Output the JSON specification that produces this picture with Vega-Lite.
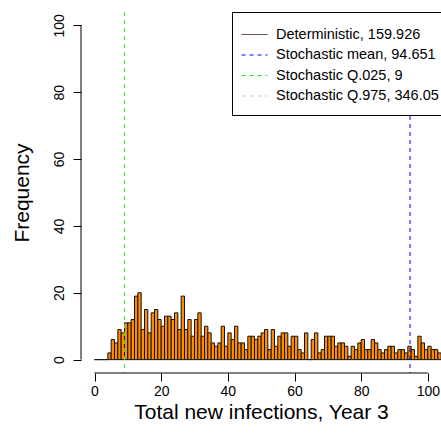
{
  "$schema": "https://vega.github.io/schema/vega-lite/v6.json",
  "width": 360,
  "height": 361,
  "autosize": {"type": "none"},
  "padding": {"left": 81, "top": 12, "right": 0, "bottom": 69},
  "config": {
    "font": "Liberation Sans",
    "view": {"stroke": null},
    "axis": {"grid": false, "domain": false, "tickColor": "#000", "labelColor": "#000", "titleColor": "#000", "labelFont": "Liberation Sans", "titleFont": "Liberation Sans", "titleFontWeight": "normal", "tickSize": 8, "labelFontSize": 14, "titleFontSize": 21},
    "legend": {"labelFont": "Liberation Sans"}
  },
  "datasets": {
    "hist": [
      {"lo":0,"hi":1,"n":0},{"lo":1,"hi":2,"n":0},{"lo":2,"hi":3,"n":0},{"lo":3,"hi":4,"n":0},
      {"lo":4,"hi":5,"n":2},{"lo":5,"hi":6,"n":6},{"lo":6,"hi":7,"n":5},{"lo":7,"hi":8,"n":9},
      {"lo":8,"hi":9,"n":8},{"lo":9,"hi":10,"n":11},{"lo":10,"hi":11,"n":11},{"lo":11,"hi":12,"n":12},
      {"lo":12,"hi":13,"n":19},{"lo":13,"hi":14,"n":20},{"lo":14,"hi":15,"n":9},{"lo":15,"hi":16,"n":15},
      {"lo":16,"hi":17,"n":8},{"lo":17,"hi":18,"n":14},{"lo":18,"hi":19,"n":15},{"lo":19,"hi":20,"n":12},
      {"lo":20,"hi":21,"n":10},{"lo":21,"hi":22,"n":13},{"lo":22,"hi":23,"n":13},{"lo":23,"hi":24,"n":12},
      {"lo":24,"hi":25,"n":14},{"lo":25,"hi":26,"n":9},{"lo":26,"hi":27,"n":19},{"lo":27,"hi":28,"n":9},
      {"lo":28,"hi":29,"n":12},{"lo":29,"hi":30,"n":7},{"lo":30,"hi":31,"n":12},{"lo":31,"hi":32,"n":14},
      {"lo":32,"hi":33,"n":7},{"lo":33,"hi":34,"n":10},{"lo":34,"hi":35,"n":8},{"lo":35,"hi":36,"n":5},
      {"lo":36,"hi":37,"n":4},{"lo":37,"hi":38,"n":5},{"lo":38,"hi":39,"n":10},{"lo":39,"hi":40,"n":4},
      {"lo":40,"hi":41,"n":8},{"lo":41,"hi":42,"n":6},{"lo":42,"hi":43,"n":10},{"lo":43,"hi":44,"n":5},
      {"lo":44,"hi":45,"n":5},{"lo":45,"hi":46,"n":3},{"lo":46,"hi":47,"n":7},{"lo":47,"hi":48,"n":7},
      {"lo":48,"hi":49,"n":6},{"lo":49,"hi":50,"n":7},{"lo":50,"hi":51,"n":8},{"lo":51,"hi":52,"n":9},
      {"lo":52,"hi":53,"n":3},{"lo":53,"hi":54,"n":9},{"lo":54,"hi":55,"n":4},{"lo":55,"hi":56,"n":7},
      {"lo":56,"hi":57,"n":8},{"lo":57,"hi":58,"n":8},{"lo":58,"hi":59,"n":4},{"lo":59,"hi":60,"n":7},
      {"lo":60,"hi":61,"n":7},{"lo":61,"hi":62,"n":3},{"lo":62,"hi":63,"n":2},{"lo":63,"hi":64,"n":8},
      {"lo":64,"hi":65,"n":0},{"lo":65,"hi":66,"n":6},{"lo":66,"hi":67,"n":8},{"lo":67,"hi":68,"n":2},
      {"lo":68,"hi":69,"n":3},{"lo":69,"hi":70,"n":7},{"lo":70,"hi":71,"n":7},{"lo":71,"hi":72,"n":7},
      {"lo":72,"hi":73,"n":4},{"lo":73,"hi":74,"n":5},{"lo":74,"hi":75,"n":5},{"lo":75,"hi":76,"n":4},
      {"lo":76,"hi":77,"n":1},{"lo":77,"hi":78,"n":4},{"lo":78,"hi":79,"n":3},{"lo":79,"hi":80,"n":5},
      {"lo":80,"hi":81,"n":6},{"lo":81,"hi":82,"n":3},{"lo":82,"hi":83,"n":3},{"lo":83,"hi":84,"n":6},
      {"lo":84,"hi":85,"n":5},{"lo":85,"hi":86,"n":3},{"lo":86,"hi":87,"n":2},{"lo":87,"hi":88,"n":3},
      {"lo":88,"hi":89,"n":4},{"lo":89,"hi":90,"n":4},{"lo":90,"hi":91,"n":2},{"lo":91,"hi":92,"n":3},
      {"lo":92,"hi":93,"n":3},{"lo":93,"hi":94,"n":2},{"lo":94,"hi":95,"n":4},{"lo":95,"hi":96,"n":3},
      {"lo":96,"hi":97,"n":1},{"lo":97,"hi":98,"n":7},{"lo":98,"hi":99,"n":5},{"lo":99,"hi":100,"n":3},
      {"lo":100,"hi":101,"n":4},{"lo":101,"hi":102,"n":3},{"lo":102,"hi":103,"n":3},{"lo":103,"hi":104,"n":2}
    ],
    "lines": [
      {"name": "Deterministic, 159.926", "v": 159.926},
      {"name": "Stochastic mean, 94.651", "v": 94.651},
      {"name": "Stochastic Q.025, 9", "v": 9},
      {"name": "Stochastic Q.975, 346.05", "v": 346.05}
    ],
    "xaxisline": [{"a": 0, "b": 100, "y": -4}],
    "yaxisline": [{"a": 0, "b": 100, "x": -4.05}]
  },
  "layer": [
    {
      "data": {"name": "hist"},
      "mark": {"type": "rect", "fill": "#ff8c00", "stroke": "#111", "strokeWidth": 1, "clip": true},
      "encoding": {
        "x": {"field": "lo", "type": "quantitative",
              "scale": {"domain": [-4.05, 103.95], "nice": false, "zero": false},
              "axis": {"values": [0, 20, 40, 60, 80, 100], "labelPadding": 3, "title": "Total new infections, Year 3", "titlePadding": 3}},
        "x2": {"field": "hi"},
        "y": {"field": "n", "type": "quantitative",
              "scale": {"domain": [-4, 104], "nice": false, "zero": false},
              "axis": {"values": [0, 20, 40, 60, 80, 100], "labelAngle": -90, "labelAlign": "center", "labelBaseline": "bottom", "labelPadding": 7, "title": "Frequency", "titlePadding": 20}},
        "y2": {"datum": 0}
      }
    },
    {
      "data": {"name": "lines"},
      "mark": {"type": "rule", "strokeWidth": 1, "clip": true},
      "encoding": {
        "x": {"field": "v", "type": "quantitative"},
        "color": {"field": "name", "type": "nominal",
                  "scale": {"domain": ["Deterministic, 159.926", "Stochastic mean, 94.651", "Stochastic Q.025, 9", "Stochastic Q.975, 346.05"],
                            "range": ["#3a1f10", "#0000ff", "#22ee22", "#cfc3aa"]},
                  "legend": {"title": null, "orient": "none", "legendX": 151, "legendY": 0, "strokeColor": "#000", "fillColor": "#fff", "padding": 12, "labelFontSize": 14.5, "labelColor": "#000", "labelLimit": 400, "symbolType": "M-1.3,0H1.3", "symbolSize": 400, "symbolStrokeWidth": 1, "symbolOpacity": 1, "labelOffset": 11, "rowPadding": 3.5, "cornerRadius": 0}},
        "strokeDash": {"field": "name", "type": "nominal",
                       "scale": {"domain": ["Deterministic, 159.926", "Stochastic mean, 94.651", "Stochastic Q.025, 9", "Stochastic Q.975, 346.05"],
                                 "range": [[1, 0], [4, 4], [4, 4], [4, 4]]},
                       "legend": {"title": null, "orient": "none", "legendX": 151, "legendY": 0, "strokeColor": "#000", "fillColor": "#fff", "padding": 12, "labelFontSize": 14.5, "labelColor": "#000", "labelLimit": 400, "symbolType": "M-1.3,0H1.3", "symbolSize": 400, "symbolStrokeWidth": 1, "symbolOpacity": 1, "labelOffset": 11, "rowPadding": 3.5, "cornerRadius": 0}}
      }
    },
    {
      "data": {"name": "xaxisline"},
      "mark": {"type": "rule", "color": "#000", "strokeWidth": 1},
      "encoding": {
        "x": {"field": "a", "type": "quantitative"},
        "x2": {"field": "b"},
        "y": {"field": "y", "type": "quantitative"}
      }
    },
    {
      "data": {"name": "yaxisline"},
      "mark": {"type": "rule", "color": "#000", "strokeWidth": 1},
      "encoding": {
        "y": {"field": "a", "type": "quantitative"},
        "y2": {"field": "b"},
        "x": {"field": "x", "type": "quantitative"}
      }
    }
  ]
}
